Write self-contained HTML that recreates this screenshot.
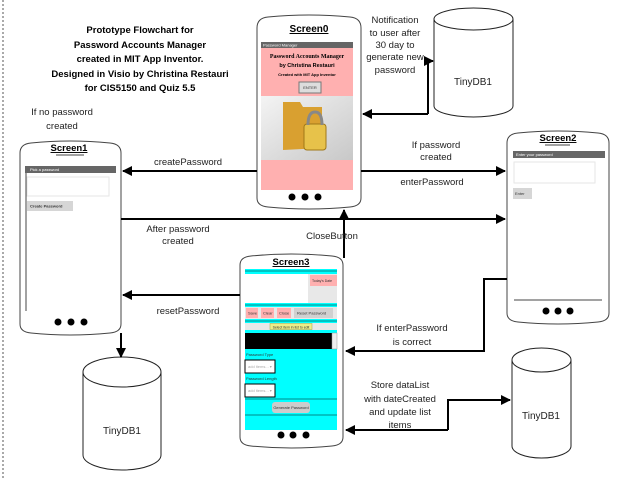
<!DOCTYPE html>
<html><head><meta charset="utf-8"><style>
html,body{margin:0;padding:0;background:#fff;width:634px;height:479px;overflow:hidden}
svg{display:block;font-family:"Liberation Sans",sans-serif}
.t{font-size:9.5px;fill:#222;text-anchor:middle}
.s{font-size:4px;fill:#333}
</style></head><body>
<svg width="634" height="479" viewBox="0 0 634 479" xmlns="http://www.w3.org/2000/svg">
<defs>
<marker id="a" viewBox="0 0 10 10" refX="9" refY="5" markerWidth="5" markerHeight="5" orient="auto"><path d="M0,0L10,5L0,10z" fill="#000"/></marker>
<linearGradient id="g" x1="0" y1="0" x2="1" y2="1"><stop offset="0" stop-color="#f4f4f4"/><stop offset="1" stop-color="#c8c8c8"/></linearGradient>
</defs>
<line x1="3" y1="0" x2="3" y2="479" stroke="#555" stroke-dasharray="2,2" stroke-width="1"/>

<g font-weight="bold" font-size="9.5" text-anchor="middle" fill="#000">
<text x="140" y="33">Prototype Flowchart for</text>
<text x="140" y="48">Password Accounts Manager</text>
<text x="140" y="62">created in MIT App Inventor.</text>
<text x="140" y="77">Designed in Visio by Christina Restauri</text>
<text x="140" y="91">for CIS5150 and Quiz 5.5</text>
</g>

<!-- Screen0 -->
<path d="M257,28 Q257,18 268,17 Q309,13 350,17 Q361,18 361,28 L361,198 Q361,206 350,207 Q309,211 268,207 Q257,206 257,198 Z" fill="#fff" stroke="#444"/>
<text x="309" y="32" font-size="10" font-weight="bold" text-anchor="middle" text-decoration="underline">Screen0</text>
<rect x="261" y="42" width="92" height="6" fill="#666"/><text x="263" y="46.5" class="s" fill="#fff" style="fill:#fff">Password Manager</text>
<rect x="261" y="48" width="92" height="48" fill="#ffb0b0"/>
<text x="307" y="58" font-size="6" font-family="Liberation Serif" font-weight="bold" text-anchor="middle">Password Accounts Manager</text>
<text x="307" y="67" font-size="5.5" font-weight="bold" text-anchor="middle">by Christina Restauri</text>
<text x="307" y="76" font-size="4" font-weight="bold" text-anchor="middle">Created with MIT App Inventor</text>
<rect x="299" y="82" width="22" height="11" fill="#ddd" stroke="#777"/><text x="310" y="89" class="s" text-anchor="middle">ENTER</text>
<rect x="261" y="96" width="92" height="64" fill="url(#g)"/>
<path d="M283,102 L300,102 L303,107 L322,107 L322,148 L283,150 Z" fill="#d9a030"/>
<rect x="304" y="124" width="22" height="26" rx="3" fill="#e7c24a" stroke="#a07818" stroke-width="1"/>
<path d="M308,125 Q308,112 315,112 Q322,112 322,125" fill="none" stroke="#888" stroke-width="3"/>
<rect x="261" y="160" width="92" height="30" fill="#ffb0b0"/>
<circle cx="292" cy="197" r="3.5"/><circle cx="305" cy="197" r="3.5"/><circle cx="318" cy="197" r="3.5"/>

<!-- TinyDB top -->
<path d="M434,19 L434,106 A39.5,11 0 0 0 513,106 L513,19" fill="#fff" stroke="#222"/>
<ellipse cx="473.5" cy="19" rx="39.5" ry="11" fill="#fff" stroke="#222"/>
<text x="473" y="85" class="t" style="font-size:10px">TinyDB1</text>
<g class="t"><text x="395" y="23">Notification</text><text x="395" y="36">to user after</text><text x="395" y="48">30 day to</text><text x="395" y="60">generate new</text><text x="395" y="73">password</text></g>
<polyline points="428,114 428,61 433,61" fill="none" stroke="#000" stroke-width="2" marker-end="url(#a)"/>
<line x1="428" y1="114" x2="363" y2="114" stroke="#000" stroke-width="2" marker-end="url(#a)"/>

<text x="62" y="115" class="t">If no password</text><text x="62" y="129" class="t">created</text>

<!-- Screen1 -->
<path d="M20,153 Q20,144 31,143 Q70,139 110,143 Q121,144 121,153 L121,324 Q121,332 110,333 Q70,337 31,333 Q20,332 20,324 Z" fill="#fff" stroke="#444"/>
<text x="69" y="151" font-size="9.5" font-weight="bold" text-anchor="middle" text-decoration="underline">Screen1</text>
<line x1="56" y1="155" x2="84" y2="155" stroke="#444"/>
<rect x="25" y="166" width="91" height="7" fill="#666"/><text x="30" y="171" class="s" style="fill:#fff">Pick a password</text>
<rect x="27" y="177" width="82" height="19" fill="#fff" stroke="#e6e6e6"/>
<rect x="27" y="201" width="46" height="10" fill="#d6d6d6"/><text x="30" y="207.5" class="s" font-weight="bold">Create Password</text>
<line x1="26" y1="173" x2="26" y2="311" stroke="#444"/>
<circle cx="58" cy="322" r="3.5"/><circle cx="71" cy="322" r="3.5"/><circle cx="84" cy="322" r="3.5"/>

<!-- Screen2 -->
<path d="M507,143 Q507,134 518,133 Q558,129 598,133 Q609,134 609,143 L609,313 Q609,321 598,322 Q558,326 518,322 Q507,321 507,313 Z" fill="#fff" stroke="#444"/>
<text x="558" y="141" font-size="9.5" font-weight="bold" text-anchor="middle" text-decoration="underline">Screen2</text>
<line x1="545" y1="145" x2="570" y2="145" stroke="#444"/>
<rect x="513" y="151" width="92" height="7" fill="#666"/><text x="516" y="156" class="s" style="fill:#fff">Enter your password</text>
<rect x="514" y="162" width="81" height="21" fill="#fff" stroke="#e6e6e6"/>
<rect x="513" y="188" width="19" height="11" fill="#d6d6d6"/><text x="515" y="195" class="s">Enter</text>
<line x1="514" y1="300" x2="602" y2="300" stroke="#444"/>
<circle cx="546" cy="311" r="3.5"/><circle cx="558" cy="311" r="3.5"/><circle cx="570" cy="311" r="3.5"/>

<!-- Screen3 -->
<path d="M240,265 Q240,257 251,256 Q291,252 332,256 Q343,257 343,265 L343,437 Q343,445 332,446 Q291,450 251,446 Q240,445 240,437 Z" fill="#fff" stroke="#444"/>
<text x="291" y="265" font-size="9.5" font-weight="bold" text-anchor="middle" text-decoration="underline">Screen3</text>
<rect x="245" y="269" width="92" height="161" fill="#00ffff"/>
<line x1="245" y1="271" x2="337" y2="271" stroke="#088" stroke-width="1"/>
<rect x="245" y="274" width="92" height="29" fill="#e8e8e8"/>
<rect x="245" y="274" width="63" height="29" fill="#fff"/>
<rect x="310" y="275" width="27" height="11" fill="#ffb0b0"/><text x="312" y="282" class="s" style="font-size:3.5px">Today's Date</text>
<line x1="245" y1="305" x2="337" y2="305" stroke="#088"/>
<rect x="245" y="307" width="92" height="12" fill="#e8e8e8"/>
<rect x="246" y="308" width="12" height="10" fill="#ffb0b0"/><text x="248" y="314.5" class="s">Save</text>
<rect x="261" y="308" width="13" height="10" fill="#ffb0b0"/><text x="263" y="314.5" class="s">Clear</text>
<rect x="277" y="308" width="14" height="10" fill="#ffb0b0"/><text x="279" y="314.5" class="s">Close</text>
<rect x="294" y="308" width="39" height="10" fill="#d0d0d0"/><text x="297" y="314.5" class="s">Reset Password</text>
<line x1="245" y1="321" x2="337" y2="321" stroke="#088"/>
<rect x="245" y="323" width="92" height="7" fill="#e8e8e8"/>
<rect x="270" y="323.5" width="42" height="6" fill="#ee8" stroke="#9a4" stroke-width="0.5"/><text x="291" y="328.5" class="s" text-anchor="middle" style="font-size:3.5px">Select item in list to edit</text>
<rect x="245" y="333" width="88" height="16" fill="#000"/>
<rect x="332" y="333" width="5" height="16" fill="#eee" stroke="#999" stroke-width="0.5"/>
<text x="246" y="356" class="s" style="font-size:4px">Password Type</text>
<rect x="245" y="360" width="30" height="13" fill="#fff" stroke="#000"/><text x="248" y="368" class="s" style="fill:#aaa">add items...  ▾</text>
<text x="246" y="380" class="s" style="font-size:4px">Password Length</text>
<rect x="245" y="384" width="30" height="13" fill="#fff" stroke="#000"/><text x="248" y="392" class="s" style="fill:#aaa">add items...  ▾</text>
<line x1="245" y1="399" x2="337" y2="399" stroke="#088"/>
<rect x="272" y="402" width="38" height="11" rx="3" fill="#ccc"/><text x="291" y="409" class="s" text-anchor="middle">Generate Password</text>
<line x1="245" y1="415" x2="337" y2="415" stroke="#088"/>
<circle cx="281" cy="435" r="3.5"/><circle cx="293" cy="435" r="3.5"/><circle cx="306" cy="435" r="3.5"/>

<!-- TinyDB left -->
<path d="M83,372 L83,455 A39,15 0 0 0 161,455 L161,372" fill="#fff" stroke="#222"/>
<ellipse cx="122" cy="372" rx="39" ry="15" fill="#fff" stroke="#222"/>
<text x="122" y="434" class="t" style="font-size:10px">TinyDB1</text>

<!-- TinyDB right -->
<path d="M512,360 L512,446 A29.5,12 0 0 0 571,446 L571,360" fill="#fff" stroke="#222"/>
<ellipse cx="541.5" cy="360" rx="29.5" ry="12" fill="#fff" stroke="#222"/>
<text x="541" y="419" class="t" style="font-size:10px">TinyDB1</text>

<!-- arrows -->
<g stroke="#000" stroke-width="2" fill="none">
<line x1="257" y1="171" x2="123" y2="171" marker-end="url(#a)"/>
<line x1="361" y1="171" x2="505" y2="171" marker-end="url(#a)"/>
<line x1="121" y1="219" x2="505" y2="219" marker-end="url(#a)"/>
<line x1="344" y1="258" x2="344" y2="210" marker-end="url(#a)"/>
<line x1="240" y1="295" x2="123" y2="295" marker-end="url(#a)"/>
<line x1="121" y1="333" x2="121" y2="357" marker-end="url(#a)"/>
<polyline points="507,279 484,279 484,351 346,351" marker-end="url(#a)"/>
<line x1="448" y1="430" x2="346" y2="430" marker-end="url(#a)"/>
<polyline points="448,430 448,400 510,400" marker-end="url(#a)"/>
</g>

<g class="t">
<text x="188" y="165">createPassword</text>
<text x="436" y="148">If password</text><text x="436" y="160">created</text>
<text x="432" y="185">enterPassword</text>
<text x="178" y="232">After password</text><text x="178" y="244">created</text>
<text x="332" y="239">CloseButton</text>
<text x="188" y="314">resetPassword</text>
<text x="412" y="331">If enterPassword</text><text x="412" y="345">is correct</text>
<text x="400" y="388">Store dataList</text><text x="400" y="402">with dateCreated</text><text x="400" y="415">and update list</text><text x="400" y="428">items</text>
</g>
</svg>
</body></html>
